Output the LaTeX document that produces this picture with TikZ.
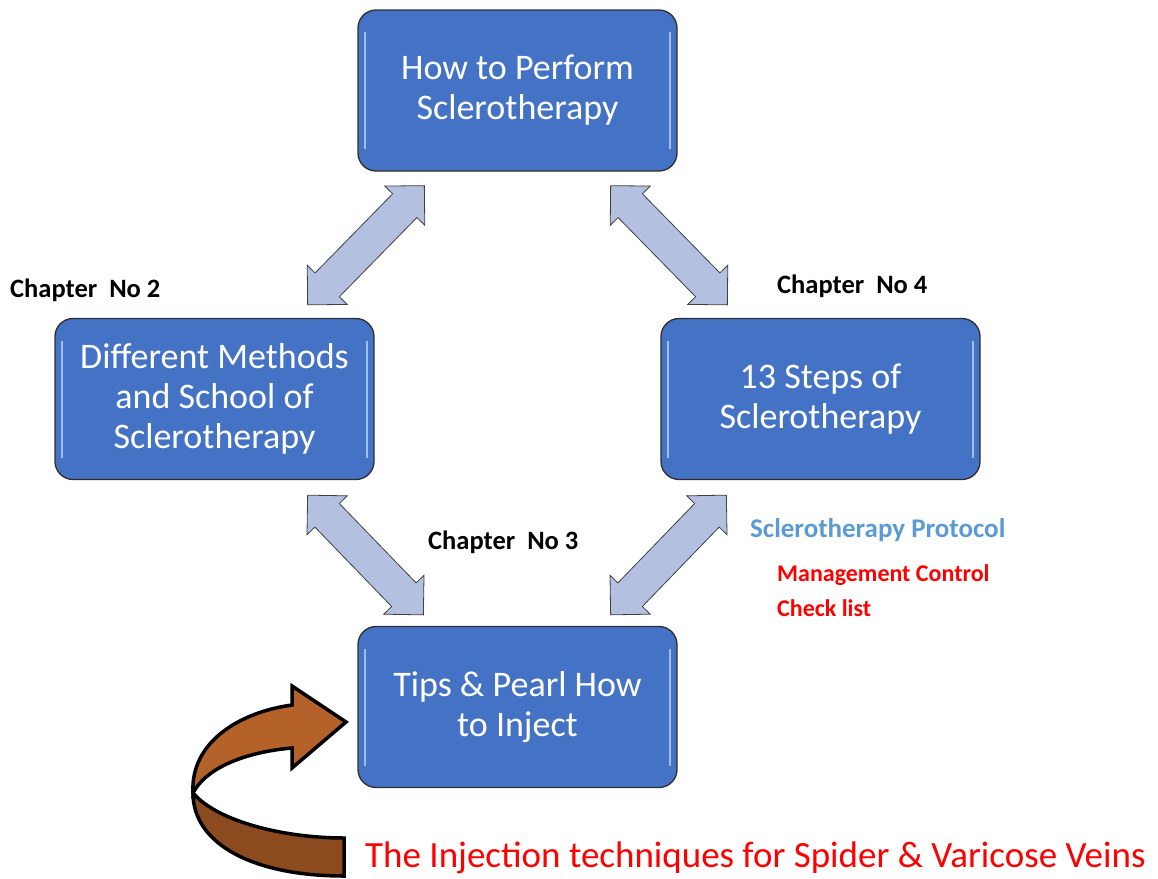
\documentclass[tikz,border=0pt]{standalone}
\usepackage{fontspec}
\setmainfont{Carlito}
\usetikzlibrary{calc}
\definecolor{boxblue}{HTML}{4472C4}
\definecolor{boxedge}{HTML}{2F2F2F}
\definecolor{hilite}{HTML}{9DBDEB}
\definecolor{arrfill}{HTML}{B4C0E0}
\definecolor{arredge}{HTML}{404040}
\definecolor{protoblue}{HTML}{5B9BD5}
\definecolor{brownlight}{HTML}{B5612A}
\definecolor{browndark}{HTML}{8C4A1F}
\definecolor{pured}{HTML}{FF0000}
\newcommand\blkarrow[2]{%
 \draw[blockarrow] (#1)
 -- ($(#1)!28pt!(#2)!28pt!90:(#2)$)
 -- ($(#1)!28pt!(#2)!17pt!90:(#2)$)
 -- ($(#2)!28pt!(#1)!17pt!-90:(#1)$)
 -- ($(#2)!28pt!(#1)!28pt!-90:(#1)$)
 -- (#2)
 -- ($(#2)!28pt!(#1)!28pt!90:(#1)$)
 -- ($(#2)!28pt!(#1)!17pt!90:(#1)$)
 -- ($(#1)!28pt!(#2)!17pt!-90:(#2)$)
 -- ($(#1)!28pt!(#2)!28pt!-90:(#2)$)
 -- cycle;}
\begin{document}
\begin{tikzpicture}[x=1pt,y=-1pt,
 box/.style={draw=boxedge, line width=1.3pt, fill=boxblue, rounded corners=18pt,
   minimum width=319pt, minimum height=161pt, text=white, align=center,
   font=\fontsize{36}{40}\selectfont, inner sep=0pt,
   path picture={
     \draw[hilite, line width=1.3pt] ([xshift=7pt,yshift=-22pt]path picture bounding box.north west) -- ([xshift=7pt,yshift=22pt]path picture bounding box.south west);
     \draw[hilite, line width=1.3pt] ([xshift=-7pt,yshift=-22pt]path picture bounding box.north east) -- ([xshift=-7pt,yshift=22pt]path picture bounding box.south east);}},
 chap/.style={font=\fontsize{26.5}{30}\selectfont\bfseries, anchor=west, inner sep=0pt},
 side/.style={font=\fontsize{24}{28}\selectfont\bfseries, anchor=west, inner sep=0pt},
 blockarrow/.style={fill=arrfill, draw=arredge, line width=0.8pt, line join=miter},
 curvearrow/.style={line width=3.5pt, line join=miter, draw=black},
]
\useasboundingbox (0,0) rectangle (1158,878);

\node[box] (top) at (517.5,90.5) {How to Perform\\Sclerotherapy};
\node[box] (left) at (214.5,399) {Different Methods\\and School of\\Sclerotherapy};
\node[box] (right) at (820.5,399) {13 Steps of\\Sclerotherapy};
\node[box] (bottom) at (517.5,707) {Tips \& Pearl How\\to Inject};

\coordinate (tla) at ($(top.south west)+(67,14)$);
\coordinate (tlb) at ($(left.north east)+(-67,-13)$);
\coordinate (tra) at ($(top.south east)+(-67,14)$);
\coordinate (trb) at ($(right.north west)+(67,-13)$);
\coordinate (bla) at ($(left.south east)+(-67,15)$);
\coordinate (blb) at ($(bottom.north west)+(66,-11)$);
\coordinate (bra) at ($(right.south west)+(66,15)$);
\coordinate (brb) at ($(bottom.north east)+(-67,-11)$);

\blkarrow{tla}{tlb}
\blkarrow{tra}{trb}
\blkarrow{bla}{blb}
\blkarrow{bra}{brb}

\node[chap] (c2) at (10,290) {Chapter\ \ No 2};
\node[chap] (c4) at (777,286) {Chapter\ \ No 4};
\node[chap] (c3) at (428,542) {Chapter\ \ No 3};
\node[side, font=\fontsize{27}{30}\selectfont\bfseries, text=protoblue] (proto) at (750,530) {Sclerotherapy Protocol};
\node[side, text=pured] (mgmt) at (777,575) {Management Control};
\node[side, text=pured] (check) at (777,608) {Check list};
\node[anchor=west, inner sep=0pt, font=\fontsize{37}{42}\selectfont, text=pured] (inj) at (365,858) {The Injection techniques for Spider \& Varicose Veins};

\draw[curvearrow, fill=brownlight] (193,793) .. controls (190,742) and (240,712) .. (292,705)
  -- (292,686) -- (346,722) -- (292,768) -- (292,748)
  .. controls (245,752) and (206,768) .. (193,793) -- cycle;
\draw[curvearrow, fill=browndark] (193,793) .. controls (218,822) and (285,838) .. (344,838)
  -- (344,876) .. controls (255,876) and (193,845) .. (193,793) -- cycle;
\end{tikzpicture}
\end{document}
